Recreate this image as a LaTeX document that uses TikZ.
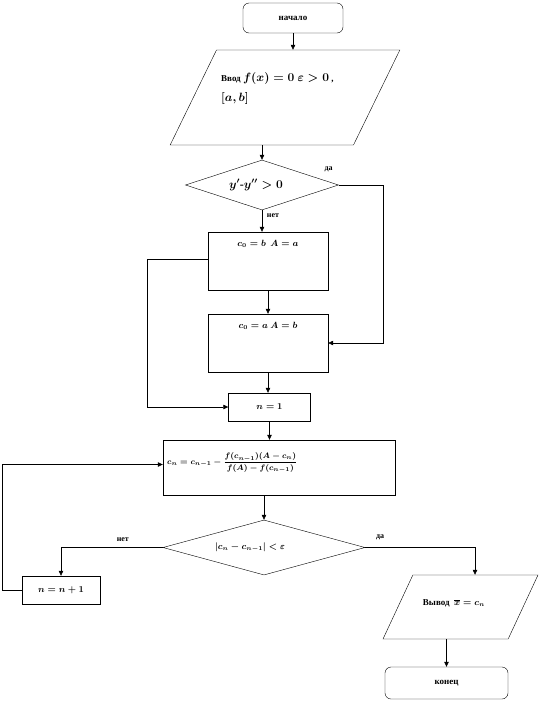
\documentclass[tikz,border=0pt]{standalone}
\usepackage{amsmath}
\usepackage{fontspec}
\setmainfont{Liberation Serif}
\usetikzlibrary{arrows.meta,positioning,shapes.geometric}

\begin{document}
\begin{tikzpicture}[
			x=1pt,y=-1pt,
			font=\bfseries\boldmath\small,
			term/.style={
				rectangle,draw,rounded corners=6pt,
				inner sep=1pt
			},
			box/.style={
				rectangle,draw,inner sep=1pt
			},
			io/.style={
				trapezium,draw,inner sep=0pt
			},
			decision/.style={
				diamond,draw,inner sep=1pt
			},
			lbl/.style={font=\footnotesize\bfseries},
			arrow/.style={-{Triangle[length=5pt,width=4.5pt]},semithick}
			]
			\useasboundingbox (0,0) rectangle (545,702);
			
			\node[term,minimum width=100pt,minimum height=30pt] (start) at (293,18)
			{начало};
			
			\node[io,trapezium left angle=64,trapezium right angle=116,
			text width=137pt,text height=47.5pt,text depth=47.5pt] (input) at (285,97.5) {};
			\node[anchor=north west,align=left,inner sep=0pt] (inputtext) at (221,72)
			{Ввод {\large $f(x)=0$ $\varepsilon>0$} ,\\[7pt]
				{\large $[a,b]$}};
			
			\node[decision,minimum width=153pt,minimum height=50pt] (check) at (262,185) {\strut};
			\node[inner sep=0pt] (checktext) at (256,185)
			{\large $y'$-$y''>0$};
			
			\node[box,minimum width=120pt,minimum height=58pt] (first) at (268,261) {};
			\node[below=8pt of first.north,inner sep=0pt] (firsttext)
			{$c_0=b$ \ $A=a$};
			
			\node[box,minimum width=120pt,minimum height=58pt] (second) at (268,343) {};
			\node[below=8pt of second.north,inner sep=0pt] (secondtext)
			{$c_0=a$ $A=b$};
			
			\node[box,minimum width=82pt,minimum height=28pt] (init) at (269.5,407)
			{$n=1$};
			
			\node[box,minimum width=232pt,minimum height=55pt] (chord) at (279,467.5) {};
			\node[anchor=west,inner sep=0pt] (chordtext) at (167,463)
			{\footnotesize $c_n=c_{n-1}-\dfrac{f(c_{n-1})(A-c_n)}{f(A)-f(c_{n-1})}$};
			
			\node[decision,minimum width=202pt,minimum height=55pt] (stop) at (264,547.5) {\strut};
			\node[inner sep=0pt] (stoptext) at (250,547)
			{$\left|c_n-c_{n-1}\right|<\varepsilon$};
			
			\node[box,minimum width=78pt,minimum height=28pt] (next) at (61,590)
			{$n=n+1$};
			
			\node[io,trapezium left angle=65,trapezium right angle=115,
			text width=95.3pt,text height=32pt,text depth=32pt] (output) at (460.5,607) {};
			\node[inner sep=0pt] (outputtext) at (454,603)
			{Вывод \ $\overline{x}=c_n$};
			
			\node[term,minimum width=123pt,minimum height=32pt] (finish) at (446.5,683)
			{конец};
			
			\draw[arrow] (start.south) -- (start.south |- input.north);
			\draw[arrow] (check.north |- input.south) -- (check.north);
			
			\draw[arrow] (check.south)
			node[lbl,xshift=11pt,yshift=-5pt]{нет} -- (check.south |- first.north);
			
			\draw[arrow] (check.east)
			node[lbl,xshift=-10pt,yshift=16pt]{да} -- ++(45,0) |- (second.east);
			
			\draw[arrow] (first.south) -- (second.north);
			\draw[arrow] (second.south) -- (second.south |- init.north);
			\draw[arrow] ([yshift=2pt]first.west) -- ++(-61,0) |- (init.west);
			
			\draw[arrow] (init.south) -- (init.south |- chord.north);
			\draw[arrow] (chord.south -| stop.north) -- (stop.north);
			
			\draw[arrow] (stop.west)
			node[lbl,xshift=-40pt,yshift=8pt]{нет} -| (next.north);
			\draw[arrow] (next.west) -- ++(-20,0) |- ([yshift=3pt]chord.west);
			
			\draw[arrow] (stop.east)
			node[lbl,xshift=15pt,yshift=10pt]{да} -| ([xshift=14.5pt]output.north);
			\draw[arrow] (finish.north |- output.south) -- (finish.north);
			
		\end{tikzpicture}
\end{document}
